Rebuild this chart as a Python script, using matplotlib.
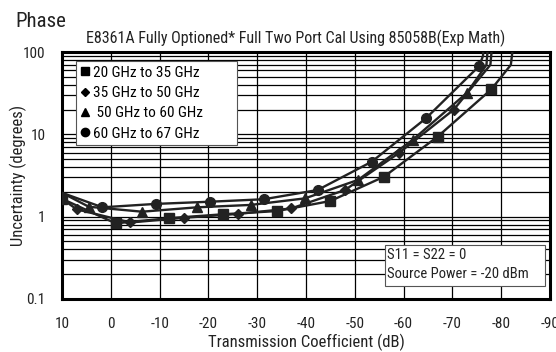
#!/usr/bin/env python3
"""
Phase uncertainty vs transmission coefficient, E8361A full two port cal
"""
import matplotlib
matplotlib.use('Agg')
import matplotlib.pyplot as plt
from matplotlib.patches import Rectangle

plt.rcParams['font.family'] = ['Roboto Condensed', 'DejaVu Sans']

# Curve data: transmission (dB) and uncertainty (degrees); last points are the
# unmarked tails that run off the top of the chart
sq_x = [10, -1, -12, -23, -34, -45, -56, -67, -78, -82.0, -82.9]
sq_y = [1.65, 0.83, 0.96, 1.07, 1.17, 1.55, 3.06, 9.4, 35.3, 70, 200]
sq_marks = list(range(9))

di_x = [10, 7, -4, -15, -26, -37, -48, -59, -70.3, -77.8, -78.5]
di_y = [1.65, 1.23, 0.85, 0.97, 1.08, 1.26, 2.11, 5.9, 20, 70, 200]
di_marks = list(range(1, 9))

tr_x = [10, 4.5, -6.4, -17.7, -28.7, -39.8, -50.7, -61.9, -73, -77.0, -77.6]
tr_y = [1.95, 1.32, 1.15, 1.30, 1.39, 1.67, 2.8, 8.6, 32, 70, 200]
tr_marks = list(range(1, 9))

ci_x = [10, 1.7, -9.2, -20.3, -31.4, -42.4, -53.5, -64.6, -75.5, -76.3, -76.4]
ci_y = [1.95, 1.30, 1.43, 1.52, 1.63, 2.11, 4.66, 15.7, 67.6, 90, 200]
ci_marks = list(range(1, 9))

series = [
    ('20 GHz to 35 GHz', sq_x, sq_y, sq_marks, 's', 6.5),
    ('35 GHz to 50 GHz', di_x, di_y, di_marks, 'D', 5.5),
    (' 50 GHz to 60 GHz', tr_x, tr_y, tr_marks, '^', 6.5),
    ('60 GHz to 67 GHz', ci_x, ci_y, ci_marks, 'o', 7),
]

x_ticks = [10, 0, -10, -20, -30, -40, -50, -60, -70, -80, -90]
y_ticks = [0.1, 1, 10, 100]
y_labels = ['0.1', '1', '10', '100']

fig = plt.figure(figsize=(5.56, 3.52), dpi=100)
ax = fig.add_axes([0.1115, 0.1506, 0.8775, 0.7014])

ax.set_yscale('log')
ax.set_xlim(10, -90)
ax.set_ylim(0.1, 100)

ax.grid(True, which='major', axis='x', color='black', linewidth=0.9)
ax.grid(True, which='both', axis='y', color='black', linewidth=0.9)
for s in ax.spines.values():
    s.set_linewidth(2.2)

handles = []
for label, xs, ys, marks, mk, ms in series:
    ax.plot(xs, ys, color='#222222', linewidth=1.7, zorder=3)
    ax.plot([xs[i] for i in marks], [ys[i] for i in marks], linestyle='none',
            marker=mk, markersize=ms, color='#222222', zorder=4)
    h, = ax.plot([], [], linestyle='none', marker=mk, markersize=ms - 1,
                 color='black', label=label)
    handles.append(h)

ax.set_xticks(x_ticks)
ax.set_xticklabels([str(t) for t in x_ticks])
ax.set_yticks(y_ticks)
ax.set_yticklabels(y_labels)
ax.tick_params(axis='both', which='both', length=0, labelsize=11, colors='#222222')
ax.tick_params(axis='x', pad=13)
ax.tick_params(axis='y', pad=12)

ax.set_xlabel('Transmission Coefficient (dB)', fontsize=12, labelpad=2,
              color='#222222')
ax.set_ylabel('Uncertainty (degrees)', fontsize=12, color='#222222')
ax.yaxis.set_label_coords(-0.072, 0.5)

leg = ax.legend(handles=handles, loc='upper left',
                bbox_to_anchor=(0.029, 0.599, 0.33, 0.365), mode='expand',
                fontsize=11, handlelength=0.5, handletextpad=0.3,
                labelspacing=0.42, borderpad=0.3, fancybox=False, framealpha=1,
                edgecolor='#555555', borderaxespad=0)
leg.get_frame().set_linewidth(0.8)

ax.add_patch(Rectangle((0.662, 0.053), 0.328, 0.166, transform=ax.transAxes,
                       facecolor='white', edgecolor='#555555', linewidth=0.8,
                       zorder=5))
ax.text(0.667, 0.18, 'S11 = S22 = 0', transform=ax.transAxes, fontsize=10.5,
        va='center', zorder=6, color='#222222')
ax.text(0.667, 0.10, 'Source Power = -20 dBm', transform=ax.transAxes,
        fontsize=10.5, va='center', zorder=6, color='#222222')

fig.text(0.027, 0.922, 'Phase', fontsize=15, color='#222222')
fig.text(0.532, 0.878, 'E8361A Fully Optioned* Full Two Port Cal Using 85058B(Exp Math)',
         fontsize=11.5, ha='center', color='#222222')

fig.savefig('out.png', dpi=100)
plt.close(fig)
